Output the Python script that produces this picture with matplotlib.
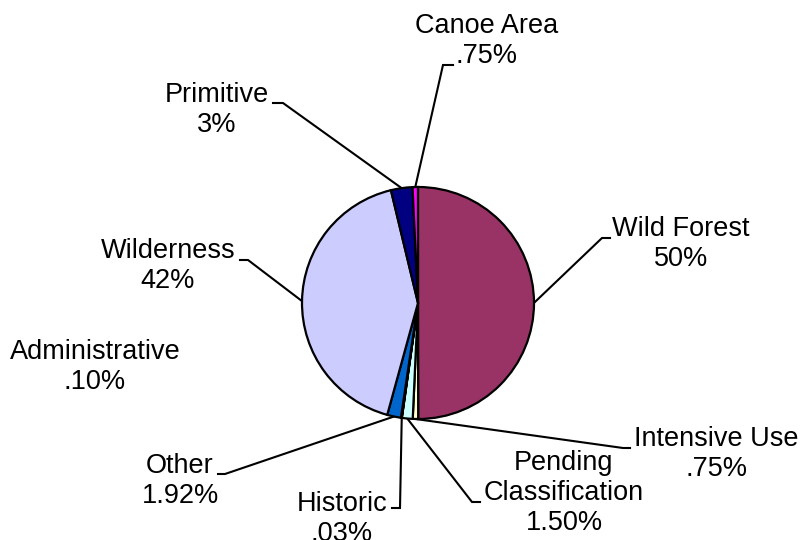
import numpy as np
import matplotlib
matplotlib.use('Agg')
import matplotlib.pyplot as plt

plt.rcParams['font.family'] = ['Liberation Sans', 'DejaVu Sans']

# Land classification shares (percent), clockwise from 12 o'clock.
CATEGORIES = ['Wild Forest', 'Intensive Use', 'Pending\nClassification', 'Historic',
              'Administrative', 'Other', 'Wilderness', 'Primitive', 'Canoe Area']
SHARES = [50, 0.75, 1.50, 0.03, 0.10, 1.92, 42, 3, 0.75]
SHARE_LABELS = ['50%', '.75%', '1.50%', '.03%', '.10%', '1.92%', '42%', '3%', '.75%']
COLORS = ['#993366', '#FFFFCC', '#CCFFFF', '#660066', '#FF8080', '#0066CC',
          '#CCCCFF', '#000080', '#FF00FF']

W, H = 801, 540

# Label layout in image pixels (y down): text centre, leader elbow, hook end.
LABEL_POS = [(681, 244), (716, 454), (564, 493), (342, 519), (95, 367),
             (180, 481), (168, 266), (217, 110), (487, 41)]
ELBOWS = [(602, 238), (623, 448), (472, 502), (400, 508), None,
          (225, 474), (248, 260), (283, 103), (443, 65)]
HOOK_ENDS = [(610, 238), (630, 448), (480, 502), (392, 508), None,
             (218, 474), (240, 260), (273, 103), (453, 65)]

CENTER = (418, 303)
RADIUS = 116


def flip(pt):
    '''Convert image pixel coords (y down) to axes data coords (y up).'''
    return pt[0], H - pt[1]


def main():
    fig = plt.figure(figsize=(W / 100, H / 100), dpi=100)
    ax = fig.add_axes([0, 0, 1, 1])

    cx, cy = flip(CENTER)
    wedges, _ = ax.pie(SHARES, colors=COLORS, startangle=90, counterclock=False,
                       center=(cx, cy), radius=RADIUS, normalize=True,
                       wedgeprops=dict(edgecolor='black', linewidth=1.6))

    for i, wedge in enumerate(wedges):
        # Label text.
        tx, ty = flip(LABEL_POS[i])
        ax.text(tx, ty, f'{CATEGORIES[i]}\n{SHARE_LABELS[i]}', ha='center', va='center',
                multialignment='center', fontsize=19.5, linespacing=1.22)

        # Leader line from the wedge's mid-angle edge.
        if ELBOWS[i] is None:
            continue
        mid = np.deg2rad((wedge.theta1 + wedge.theta2) / 2)
        sx = cx + RADIUS * np.cos(mid)
        sy = cy + RADIUS * np.sin(mid)
        ex, ey = flip(ELBOWS[i])
        hx, hy = flip(HOOK_ENDS[i])
        ax.plot([sx, ex, hx], [sy, ey, hy], color='black', linewidth=1.5,
                solid_joinstyle='miter', zorder=0)

    ax.set_xlim(0, W)
    ax.set_ylim(0, H)
    ax.set_aspect('equal')
    ax.axis('off')

    fig.savefig('out.png', dpi=100)


if __name__ == '__main__':
    main()
